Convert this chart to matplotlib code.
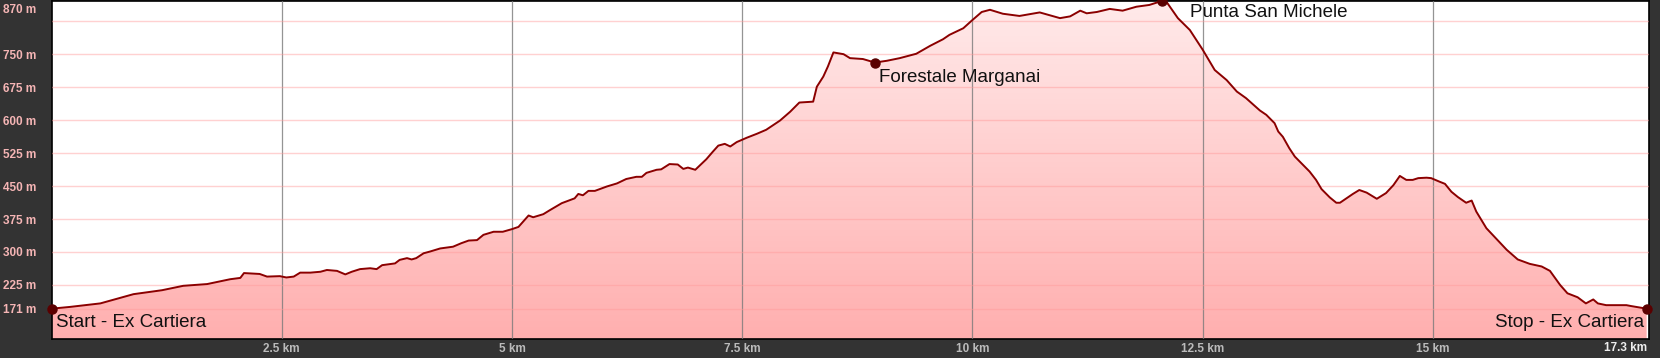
import numpy as np
import matplotlib.pyplot as plt
from matplotlib.colors import LinearSegmentedColormap

# elevation profile (km, m)
dist_km = [0.00, 0.20, 0.53, 0.89, 1.20, 1.43, 1.69, 1.94, 2.05, 2.09, 2.26, 2.34, 2.48, 2.55,
           2.63, 2.70, 2.81, 2.92, 2.99, 3.10, 3.19, 3.26, 3.35, 3.46, 3.53, 3.59, 3.73, 3.78,
           3.86, 3.91, 3.96, 4.04, 4.11, 4.22, 4.36, 4.45, 4.53, 4.62, 4.69, 4.80, 4.90, 5.00,
           5.07, 5.18, 5.23, 5.34, 5.41, 5.54, 5.68, 5.72, 5.77, 5.83, 5.90, 6.03, 6.14, 6.24,
           6.35, 6.41, 6.46, 6.57, 6.62, 6.71, 6.80, 6.86, 6.91, 6.99, 7.11, 7.18, 7.24, 7.31,
           7.37, 7.44, 7.55, 7.66, 7.76, 7.91, 8.02, 8.12, 8.27, 8.31, 8.38, 8.43, 8.49, 8.60,
           8.67, 8.81, 8.94, 9.07, 9.21, 9.39, 9.54, 9.68, 9.75, 9.90, 9.99, 10.10, 10.19,
           10.33, 10.51, 10.73, 10.95, 11.06, 11.17, 11.24, 11.35, 11.49, 11.63, 11.78, 11.92,
           12.04, 12.11, 12.23, 12.36, 12.50, 12.63, 12.76, 12.87, 12.97, 13.12, 13.19, 13.28,
           13.32, 13.37, 13.44, 13.50, 13.57, 13.66, 13.73, 13.79, 13.88, 13.95, 13.99, 14.06,
           14.13, 14.20, 14.28, 14.39, 14.49, 14.57, 14.64, 14.71, 14.78, 14.84, 14.93, 14.98,
           15.07, 15.13, 15.20, 15.27, 15.36, 15.42, 15.47, 15.58, 15.72, 15.80, 15.92, 16.05,
           16.18, 16.27, 16.38, 16.46, 16.57, 16.66, 16.74, 16.79, 16.88, 17.03, 17.10, 17.15,
           17.32]
elev_m = [171, 175, 183, 204, 213, 223, 227, 238, 241, 252, 250, 244, 245, 242,
          244, 253, 253, 255, 259, 257, 249, 255, 261, 263, 261, 270, 274, 282,
          286, 283, 286, 297, 301, 308, 312, 320, 326, 327, 339, 346, 346, 352,
          357, 383, 379, 386, 395, 411, 422, 432, 429, 439, 439, 449, 456, 466,
          471, 471, 480, 487, 488, 500, 499, 489, 492, 487, 511, 528, 542, 546,
          540, 550, 560, 569, 578, 599, 619, 640, 642, 676, 699, 722, 754, 750,
          741, 739, 731, 735, 741, 751, 769, 784, 794, 809, 826, 846, 851,
          842, 837, 845, 832, 836, 849, 843, 846, 853, 849, 858, 862,
          870, 868, 832, 805, 760, 714, 691, 665, 650, 622, 612, 593,
          574, 562, 536, 517, 502, 483, 464, 443, 424, 412, 412, 422,
          432, 441, 435, 421, 434, 452, 473, 464, 464, 468, 469, 468,
          460, 455, 437, 425, 412, 417, 392, 354, 323, 305, 283, 273,
          267, 257, 225, 206, 197, 183, 192, 183, 179, 179, 179, 177,
          171]

# waypoints
wp_names = ["Start - Ex Cartiera", "Forestale Marganai", "Punta San Michele", "Stop - Ex Cartiera"]
wp_km = [0.0, 8.94, 12.06, 17.32]
wp_elev = [171, 731, 870, 171]

yticks = [171, 225, 300, 375, 450, 525, 600, 675, 750, 825]
ytick_labels = ["171 m", "225 m", "300 m", "375 m", "450 m", "525 m", "600 m", "675 m", "750 m", ""]
max_label = "870 m"
xticks = [2.5, 5, 7.5, 10, 12.5, 15]
xtick_labels = ["2.5 km", "5 km", "7.5 km", "10 km", "12.5 km", "15 km"]
total_label = "17.3 km"

x = np.array(dist_km)
y = np.array(elev_m)
xmax = 17.34
ylo, yhi = 102, 871

fig = plt.figure(figsize=(16.6, 3.58), dpi=100, facecolor='#333333')
ax = fig.add_axes([51.5 / 1660, 19 / 358, 1597 / 1660, 338 / 358])
ax.set_facecolor('white')
ax.set_xlim(0, xmax)
ax.set_ylim(ylo, yhi)

# gradient fill under the profile
poly = ax.fill_between(x, y, ylo, color='none', lw=0)
cmap = LinearSegmentedColormap.from_list('pk', ['#ffafaf', '#ffeaea'])
grad = np.linspace(0, 1, 256).reshape(-1, 1)
im = ax.imshow(grad, cmap=cmap, origin='lower', aspect='auto',
               extent=(0, xmax, ylo, yhi), zorder=1)
im.set_clip_path(poly.get_paths()[0], transform=ax.transData)

ax.set_yticks(yticks)
ax.set_yticklabels(ytick_labels)
ax.set_xticks(xticks)
ax.set_xticklabels(xtick_labels)
ax.grid(axis='y', color='#ff9999', alpha=0.45, lw=1.0)
ax.grid(axis='x', color='#7a7a7a', alpha=0.8, lw=0.9)
ax.set_axisbelow(False)
for gl in ax.get_xgridlines() + ax.get_ygridlines():
    gl.set_zorder(2)

ax.plot(x, y, color='#8b0000', lw=1.4, zorder=3)
ax.plot(wp_km, wp_elev, 'o', color='#5a0000', ms=6.5, zorder=4, clip_on=False)

tick_font = dict(family=['Liberation Sans', 'DejaVu Sans'], size=8.5, weight='bold')
ylab_col = '#f5b5b5'
ax.tick_params(axis='y', length=0, pad=11, labelcolor=ylab_col)
ax.tick_params(axis='x', length=0, pad=3, labelcolor='#bbbbbb')
for lab in ax.get_xticklabels() + ax.get_yticklabels():
    lab.set_fontproperties(tick_font)
for s in ax.spines.values():
    s.set_color('black')
    s.set_linewidth(1.2)

ax.annotate(max_label, xy=(0, yhi), xycoords=('axes fraction', 'data'),
            xytext=(-11, -6.5), textcoords='offset points', ha='right', va='center',
            color=ylab_col, fontproperties=tick_font)
ax.annotate(total_label, xy=(1, 0), xycoords='axes fraction',
            xytext=(-1, -6.5), textcoords='offset points', ha='right', va='center',
            color='#eeeeee', fontproperties=tick_font)

lab_font = dict(family=['Liberation Sans', 'DejaVu Sans'], fontsize=13.5, color='#111111', zorder=5)
offsets = [(3, -4, 'left'), (3, -5, 'left'), (20, -2, 'left'), (-2, -4, 'right')]
for name, kx, ky, (dx, dy, ha) in zip(wp_names, wp_km, wp_elev, offsets):
    ax.annotate(name, xy=(kx, ky), xytext=(dx, dy), textcoords='offset points',
                ha=ha, va='top', **lab_font)

fig.savefig('out.png', dpi=100, facecolor=fig.get_facecolor())
